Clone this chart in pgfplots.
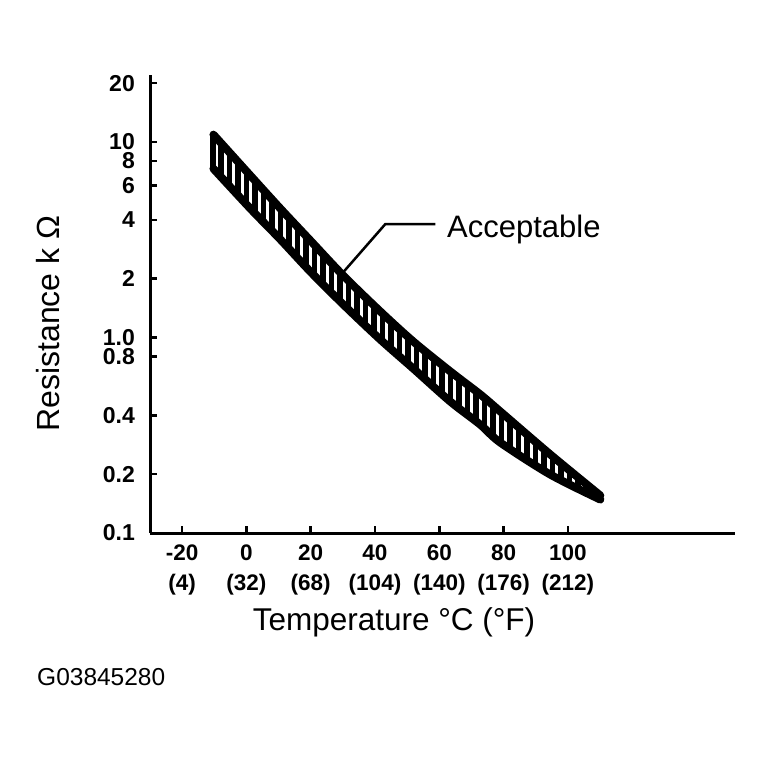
\documentclass[border=0pt]{standalone}
\usepackage{fontspec}
\setmainfont{Liberation Sans}
\usepackage{pgfplots}
\pgfplotsset{compat=1.18}
\usetikzlibrary{patterns.meta}
\begin{document}
\begin{tikzpicture}
\useasboundingbox (-150pt,-228pt) rectangle (620pt,533pt);
\begin{axis}[
  at={(0pt,0pt)}, anchor=south west,
  scale only axis, width=585pt, height=458pt,
  ymode=log, xmin=-30, xmax=152, ymin=0.1, ymax=22,
  axis x line*=bottom, axis y line*=left,
  axis line style={-, line width=3pt},
  tick align=inside,
  major tick length=7pt,
  tick style={black, line width=2.5pt},
  minor tick style={draw=none},
  xtick={-20,0,20,40,60,80,100},
  xticklabels={{-20\\(4)},{0\\(32)},{20\\(68)},{40\\(104)},{60\\(140)},{80\\(176)},{100\\(212)}},
  xticklabel style={align=center, anchor=north, inner sep=0pt, yshift=-12pt, font={\fontsize{22.5pt}{30pt}\selectfont\bfseries}},
  ytick={0.1,0.2,0.4,0.8,1,2,4,6,8,10,20},
  yticklabels={0.1,0.2,0.4,0.8,1.0,2,4,6,8,10,20},
  yticklabel style={anchor=east, inner sep=0pt, xshift=-15pt, font={\fontsize{23pt}{26pt}\selectfont\bfseries}},
  clip=false,
]
% acceptable band: hatched interior (upper edge, then lower edge reversed)
\addplot[draw=none, pattern={Lines[angle=90,distance=8.5pt,line width=5.5pt]}, pattern color=black]
  coordinates {
  (-10.26,10.90) (1.24,6.73) (10.58,4.56) (19.91,3.13) (30.17,2.07) (41.68,1.357)
  (51.94,0.953) (63.45,0.670) (72.78,0.511) (79.0,0.418) (94.56,0.252) (110.1,0.1555)
  (110.1,0.1483) (94.56,0.199) (79.0,0.290) (72.78,0.358) (63.45,0.470) (51.94,0.693)
  (41.68,0.975) (30.17,1.473) (19.91,2.17) (10.58,3.17) (1.24,4.56) (-10.26,7.30)
  } -- cycle;
% upper and lower edges
\addplot[black, line width=8pt, smooth, line cap=round] coordinates {
  (-10.26,10.90) (1.24,6.73) (10.58,4.56) (19.91,3.13) (30.17,2.07) (41.68,1.357)
  (51.94,0.953) (63.45,0.670) (72.78,0.511) (79.0,0.418) (94.56,0.252) (110.1,0.1555)};
\addplot[black, line width=8pt, smooth, line cap=round] coordinates {
  (-10.26,7.30) (1.24,4.56) (10.58,3.17) (19.91,2.17) (30.17,1.473) (41.68,0.975)
  (51.94,0.693) (63.45,0.470) (72.78,0.358) (79.0,0.290) (94.56,0.199) (110.1,0.1483)};
% end rungs
\addplot[black, line width=6pt] coordinates {(-10.26,10.90) (-10.26,7.30)};
\addplot[black, line width=6pt] coordinates {(110.1,0.1555) (110.1,0.1483)};
% leader line
\addplot[black, line width=2.5pt, line join=miter] coordinates {(29.5,2.1) (43.2,3.80) (58.8,3.80)};
\end{axis}
\node[anchor=base west, inner sep=0pt, font={\fontsize{31pt}{36pt}\selectfont}] at (297pt,296pt) {Acceptable};
\node[anchor=base, inner sep=0pt, font={\fontsize{31.5pt}{36pt}\selectfont}] at (244pt,-97pt) {Temperature °C (°F)};
\node[anchor=base, rotate=90, inner sep=0pt, font={\fontsize{32pt}{36pt}\selectfont}] at (-90pt,209.5pt) {Resistance k Ω};
\node[anchor=base west, inner sep=0pt, font={\fontsize{24.5pt}{28pt}\selectfont}] at (-113pt,-152pt) {G03845280};
\end{tikzpicture}
\end{document}
